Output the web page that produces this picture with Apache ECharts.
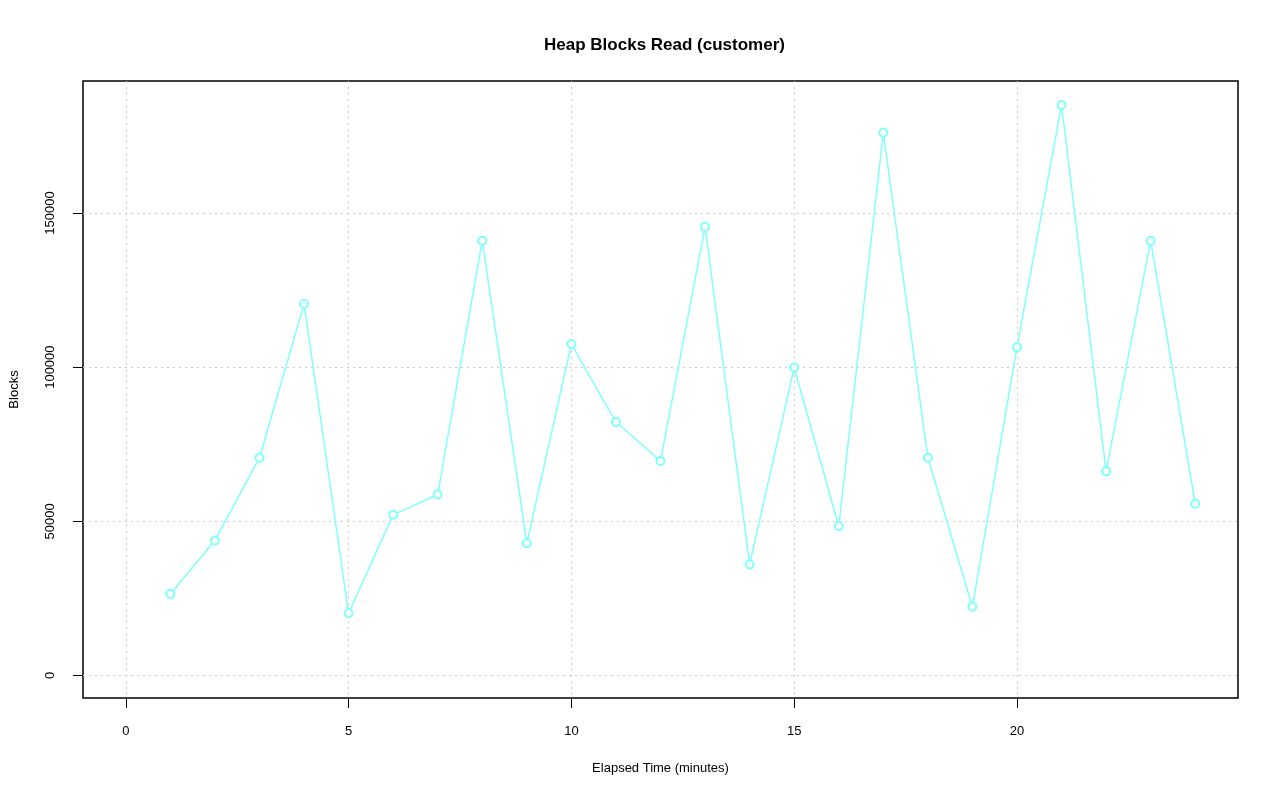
<!DOCTYPE html>
<html>
<head>
<meta charset="utf-8">
<script src="https://cdn.jsdelivr.net/npm/echarts@6/dist/echarts.min.js"></script>
<style>html,body{margin:0;padding:0;background:#fff;}#c{width:1280px;height:801px;}</style>
</head>
<body>
<div id="c"></div>
<script>
const minutes = [1,2,3,4,5,6,7,8,9,10,11,12,13,14,15,16,17,18,19,20,21,22,23,24];
const blocks = [26400,43800,70600,120500,20200,52100,58700,141000,42900,107500,82200,69600,145500,36000,99900,48400,176000,70600,22300,106500,185000,66200,141000,55700];
const xTicks = [0,5,10,15,20];
const yTicks = [0,50000,100000,150000];

const font = "'Liberation Sans', Arial, Helvetica, sans-serif";
const chart = echarts.init(document.getElementById('c'), null, {renderer: 'canvas'});
chart.setOption({
  animation: false,
  backgroundColor: '#ffffff',
  title: {
    text: 'Heap Blocks Read (customer)',
    left: 659.5, top: 32, textAlign: 'center',
    textStyle: {fontFamily: font, fontSize: 17, fontWeight: 'bold', color: '#000'}
  },
  grid: {
    left: 81, right: 42, top: 81, bottom: 103,
    show: true, borderColor: '#000', borderWidth: 1.5, backgroundColor: 'transparent'
  },
  xAxis: {
    type: 'value', min: -0.96, max: 24.96,
    name: 'Elapsed Time (minutes)', nameLocation: 'middle', nameGap: 64,
    nameTextStyle: {fontFamily: font, fontSize: 13, color: '#000'},
    axisLine: {show: false, onZero: false},
    axisTick: {show: true, customValues: xTicks, length: 10, lineStyle: {color: '#000', width: 1}},
    axisLabel: {customValues: xTicks, margin: 27, fontFamily: font, fontSize: 13, color: '#000',
      formatter: v => String(v)},
    splitLine: {show: true, lineStyle: {color: '#cccccc', width: 1, type: [2, 4]}}
  },
  yAxis: {
    type: 'value', min: -7300, max: 192800,
    name: 'Blocks', nameLocation: 'middle', nameGap: 62,
    nameTextStyle: {fontFamily: font, fontSize: 13, color: '#000'},
    axisLine: {show: false, onZero: false},
    axisTick: {show: true, customValues: yTicks, length: 10, lineStyle: {color: '#000', width: 1}},
    axisLabel: {customValues: yTicks, rotate: 90, margin: 26, fontFamily: font, fontSize: 13, color: '#000',
      formatter: v => String(v)},
    splitLine: {show: true, lineStyle: {color: '#cccccc', width: 1, type: [2, 4]}}
  },
  series: [{
    type: 'line',
    data: minutes.map((m, i) => [m, blocks[i]]),
    lineStyle: {color: '#80ffff', width: 1.5},
    symbol: 'emptyCircle', symbolSize: 8,
    itemStyle: {color: '#80ffff', borderColor: '#80ffff', borderWidth: 1.6},
    showAllSymbol: true
  }]
});
</script>
</body>
</html>
